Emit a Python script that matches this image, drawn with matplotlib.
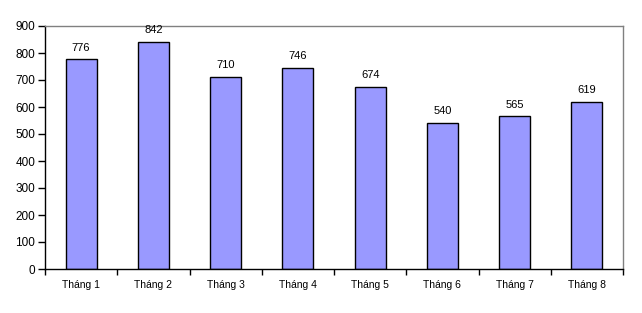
import matplotlib
matplotlib.use("Agg")
import matplotlib.pyplot as plt
import numpy as np

categories = ["Tháng 1", "Tháng 2", "Tháng 3", "Tháng 4", "Tháng 5", "Tháng 6", "Tháng 7", "Tháng 8"]
values = [776, 842, 710, 746, 674, 540, 565, 619]
yticks = [0, 100, 200, 300, 400, 500, 600, 700, 800, 900]

plt.rcParams['font.family'] = ['Liberation Sans', 'DejaVu Sans']

fig = plt.figure(figsize=(6.42, 3.13), dpi=100)
ax = fig.add_axes([45/642, 1 - 269/313, (623-45)/642, (269-26)/313])

x = np.arange(len(categories))
ax.bar(x, values, width=0.43, color="#9999FF", edgecolor="black", linewidth=1, zorder=2)
for xi, v in zip(x, values):
    ax.annotate(str(v), (xi, v), xytext=(0, 5), textcoords="offset points",
                ha="center", va="bottom", fontsize=8)

ax.set_xlim(-0.5, len(categories) - 0.5)
ax.set_ylim(0, 900)
ax.set_yticks(yticks)
ax.tick_params(axis='y', labelsize=8.5, direction='out', length=5, width=1, pad=2)
ax.set_xticks(x)
ax.set_xticklabels(categories, fontsize=7.5)
ax.tick_params(axis='x', length=0, pad=8)
ax.set_xticks(np.arange(-0.5, len(categories) + 0.5, 1), minor=True)
ax.tick_params(axis='x', which='minor', direction='out', length=4, width=1)

ax.spines['left'].set_color('black')
ax.spines['bottom'].set_color('black')
ax.spines['top'].set_color('#808080')
ax.spines['right'].set_color('#808080')
for s in ax.spines.values():
    s.set_linewidth(1)

fig.savefig("out.png", dpi=100)
